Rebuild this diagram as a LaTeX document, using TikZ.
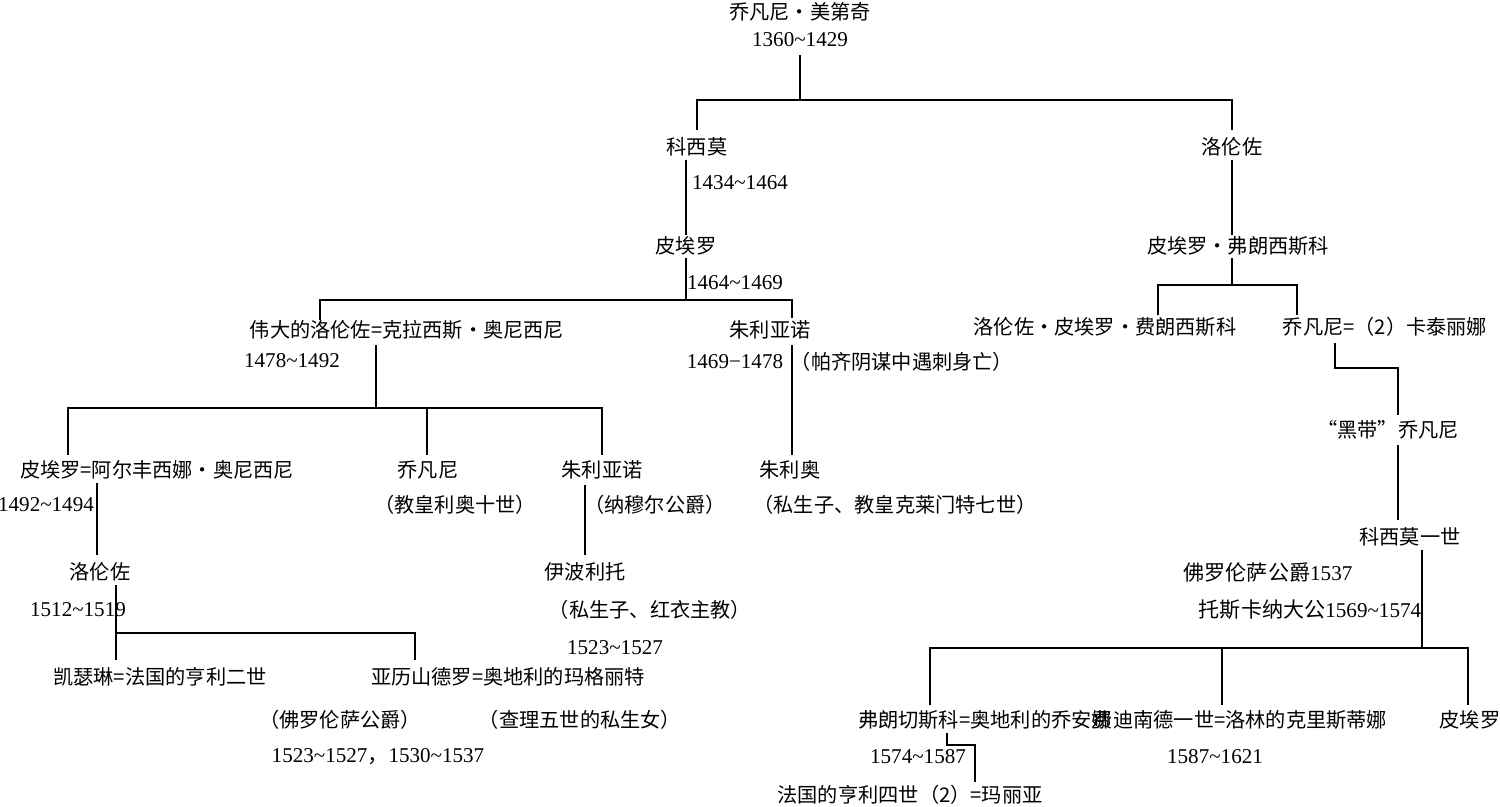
\documentclass[tikz,border=0pt]{standalone}
\usepackage{fontspec}
\setmainfont{Liberation Serif}
\newfontfamily\cjk{Noto Sans CJK SC}
\begin{document}
\begin{tikzpicture}[x=0.02cm,y=-0.02cm,
  t/.style={inner sep=0pt,font=\fontsize{11.5}{13}\selectfont\cjk},
  n/.style={inner sep=0pt,font=\fontsize{12}{13}\selectfont},
  ln/.style={line width=0.7pt}]
\useasboundingbox (0,0) rectangle (1500,807);
% nodes
\node[t] (root) at (800,12) {乔凡尼・美第奇};
\node[n] (rootd) at (800,40) {1360\textasciitilde1429};
\node[t] (cos) at (697,147) {科西莫};
\node[n] (cosd) at (740,183) {1434\textasciitilde1464};
\node[t] (pie) at (686,246) {皮埃罗};
\node[n] (pied) at (735,283) {1464\textasciitilde1469};
\node[t] (lor) at (407,330) {伟大的洛伦佐=克拉西斯・奥尼西尼};
\node[n] (lord) at (292,361) {1478\textasciitilde1492};
\node[t] (giu) at (770,330) {朱利亚诺};
\node[n] (giud) at (735,362) {1469−1478};
\node[t] (giun) at (902,362) {（帕齐阴谋中遇刺身亡）};
\node[t] (giulio) at (790,470) {朱利奥};
\node[t] (giulion) at (895,505) {（私生子、教皇克莱门特七世）};
\node[t] (p2) at (157,470) {皮埃罗=阿尔丰西娜・奥尼西尼};
\node[n] (p2d) at (46,505) {1492\textasciitilde1494};
\node[t] (gio) at (428,470) {乔凡尼};
\node[t] (gion) at (455,505) {（教皇利奥十世）};
\node[t] (giu2) at (602,470) {朱利亚诺};
\node[t] (giu2n) at (655,505) {（纳穆尔公爵）};
\node[t] (ipp) at (585,572) {伊波利托};
\node[t] (ippn) at (650,610) {（私生子、红衣主教）};
\node[n] (ippd) at (615,648) {1523\textasciitilde1527};
\node[t] (lor2) at (100,572) {洛伦佐};
\node[n] (lor2d) at (78,610) {1512\textasciitilde1519};
\node[t] (cat) at (160,677) {凯瑟琳=法国的亨利二世};
\node[t] (ale) at (508,677) {亚历山德罗=奥地利的玛格丽特};
\node[t] (alen) at (340,720) {（佛罗伦萨公爵）};
\node[t] (maren) at (580,720) {（查理五世的私生女）};
\node[n] (aled) at (378,757) {1523\textasciitilde1527{\cjk ，}1530\textasciitilde1537};
% right
\node[t] (lo) at (1232,147) {洛伦佐};
\node[t] (pf) at (1238,246) {皮埃罗・弗朗西斯科};
\node[t] (lpf) at (1105,327) {洛伦佐・皮埃罗・费朗西斯科};
\node[t] (gc) at (1385,327) {乔凡尼=（2）卡泰丽娜};
\node[t] (gb) at (1388,430) {“黑带”乔凡尼};
\node[t] (c1) at (1410,537) {科西莫一世};
\node[n] (c1a) at (1268,572) {{\cjk 佛罗伦萨公爵}1537};
\node[n] (c1b) at (1310,610) {{\cjk 托斯卡纳大公}1569\textasciitilde1574};
\node[t] (fr) at (985,720) {弗朗切斯科=奥地利的乔安娜};
\node[n] (frd) at (918,757) {1574\textasciitilde1587};
\node[t] (fe) at (1240,720) {费迪南德一世=洛林的克里斯蒂娜};
\node[n] (fed) at (1215,757) {1587\textasciitilde1621};
\node[t] (pr) at (1470,720) {皮埃罗};
\node[t] (he) at (910,795) {法国的亨利四世（2）=玛丽亚};
% lines
\draw[ln] (800,55) -- (800,100) (697,130) |- (1232,100) -- (1232,130);
\draw[ln] (686,160) -- (686,235);
\draw[ln] (686,258) -- (686,300) (320,320) |- (792,300) -- (792,318);
\draw[ln] (376,345) -- (376,408) (68,455) |- (602,408) -- (602,455) (427,408) -- (427,455);
\draw[ln] (792,345) -- (792,455);
\draw[ln] (97,483) -- (97,555);
\draw[ln] (585,485) -- (585,555);
\draw[ln] (116,585) -- (116,660) (116,633) -- (415,633) -- (415,660);
\draw[ln] (1232,160) -- (1232,235);
\draw[ln] (1232,258) -- (1232,285) (1158,315) |- (1297,285) -- (1297,315);
\draw[ln] (1335,343) |- (1398,368) -- (1398,415);
\draw[ln] (1398,445) -- (1398,520);
\draw[ln] (1422,550) -- (1422,648) (930,705) |- (1468,648) -- (1468,705) (1222,648) -- (1222,705);
\draw[ln] (947,733) -- (947,745) -- (975,745) -- (975,782);
\end{tikzpicture}
\end{document}
